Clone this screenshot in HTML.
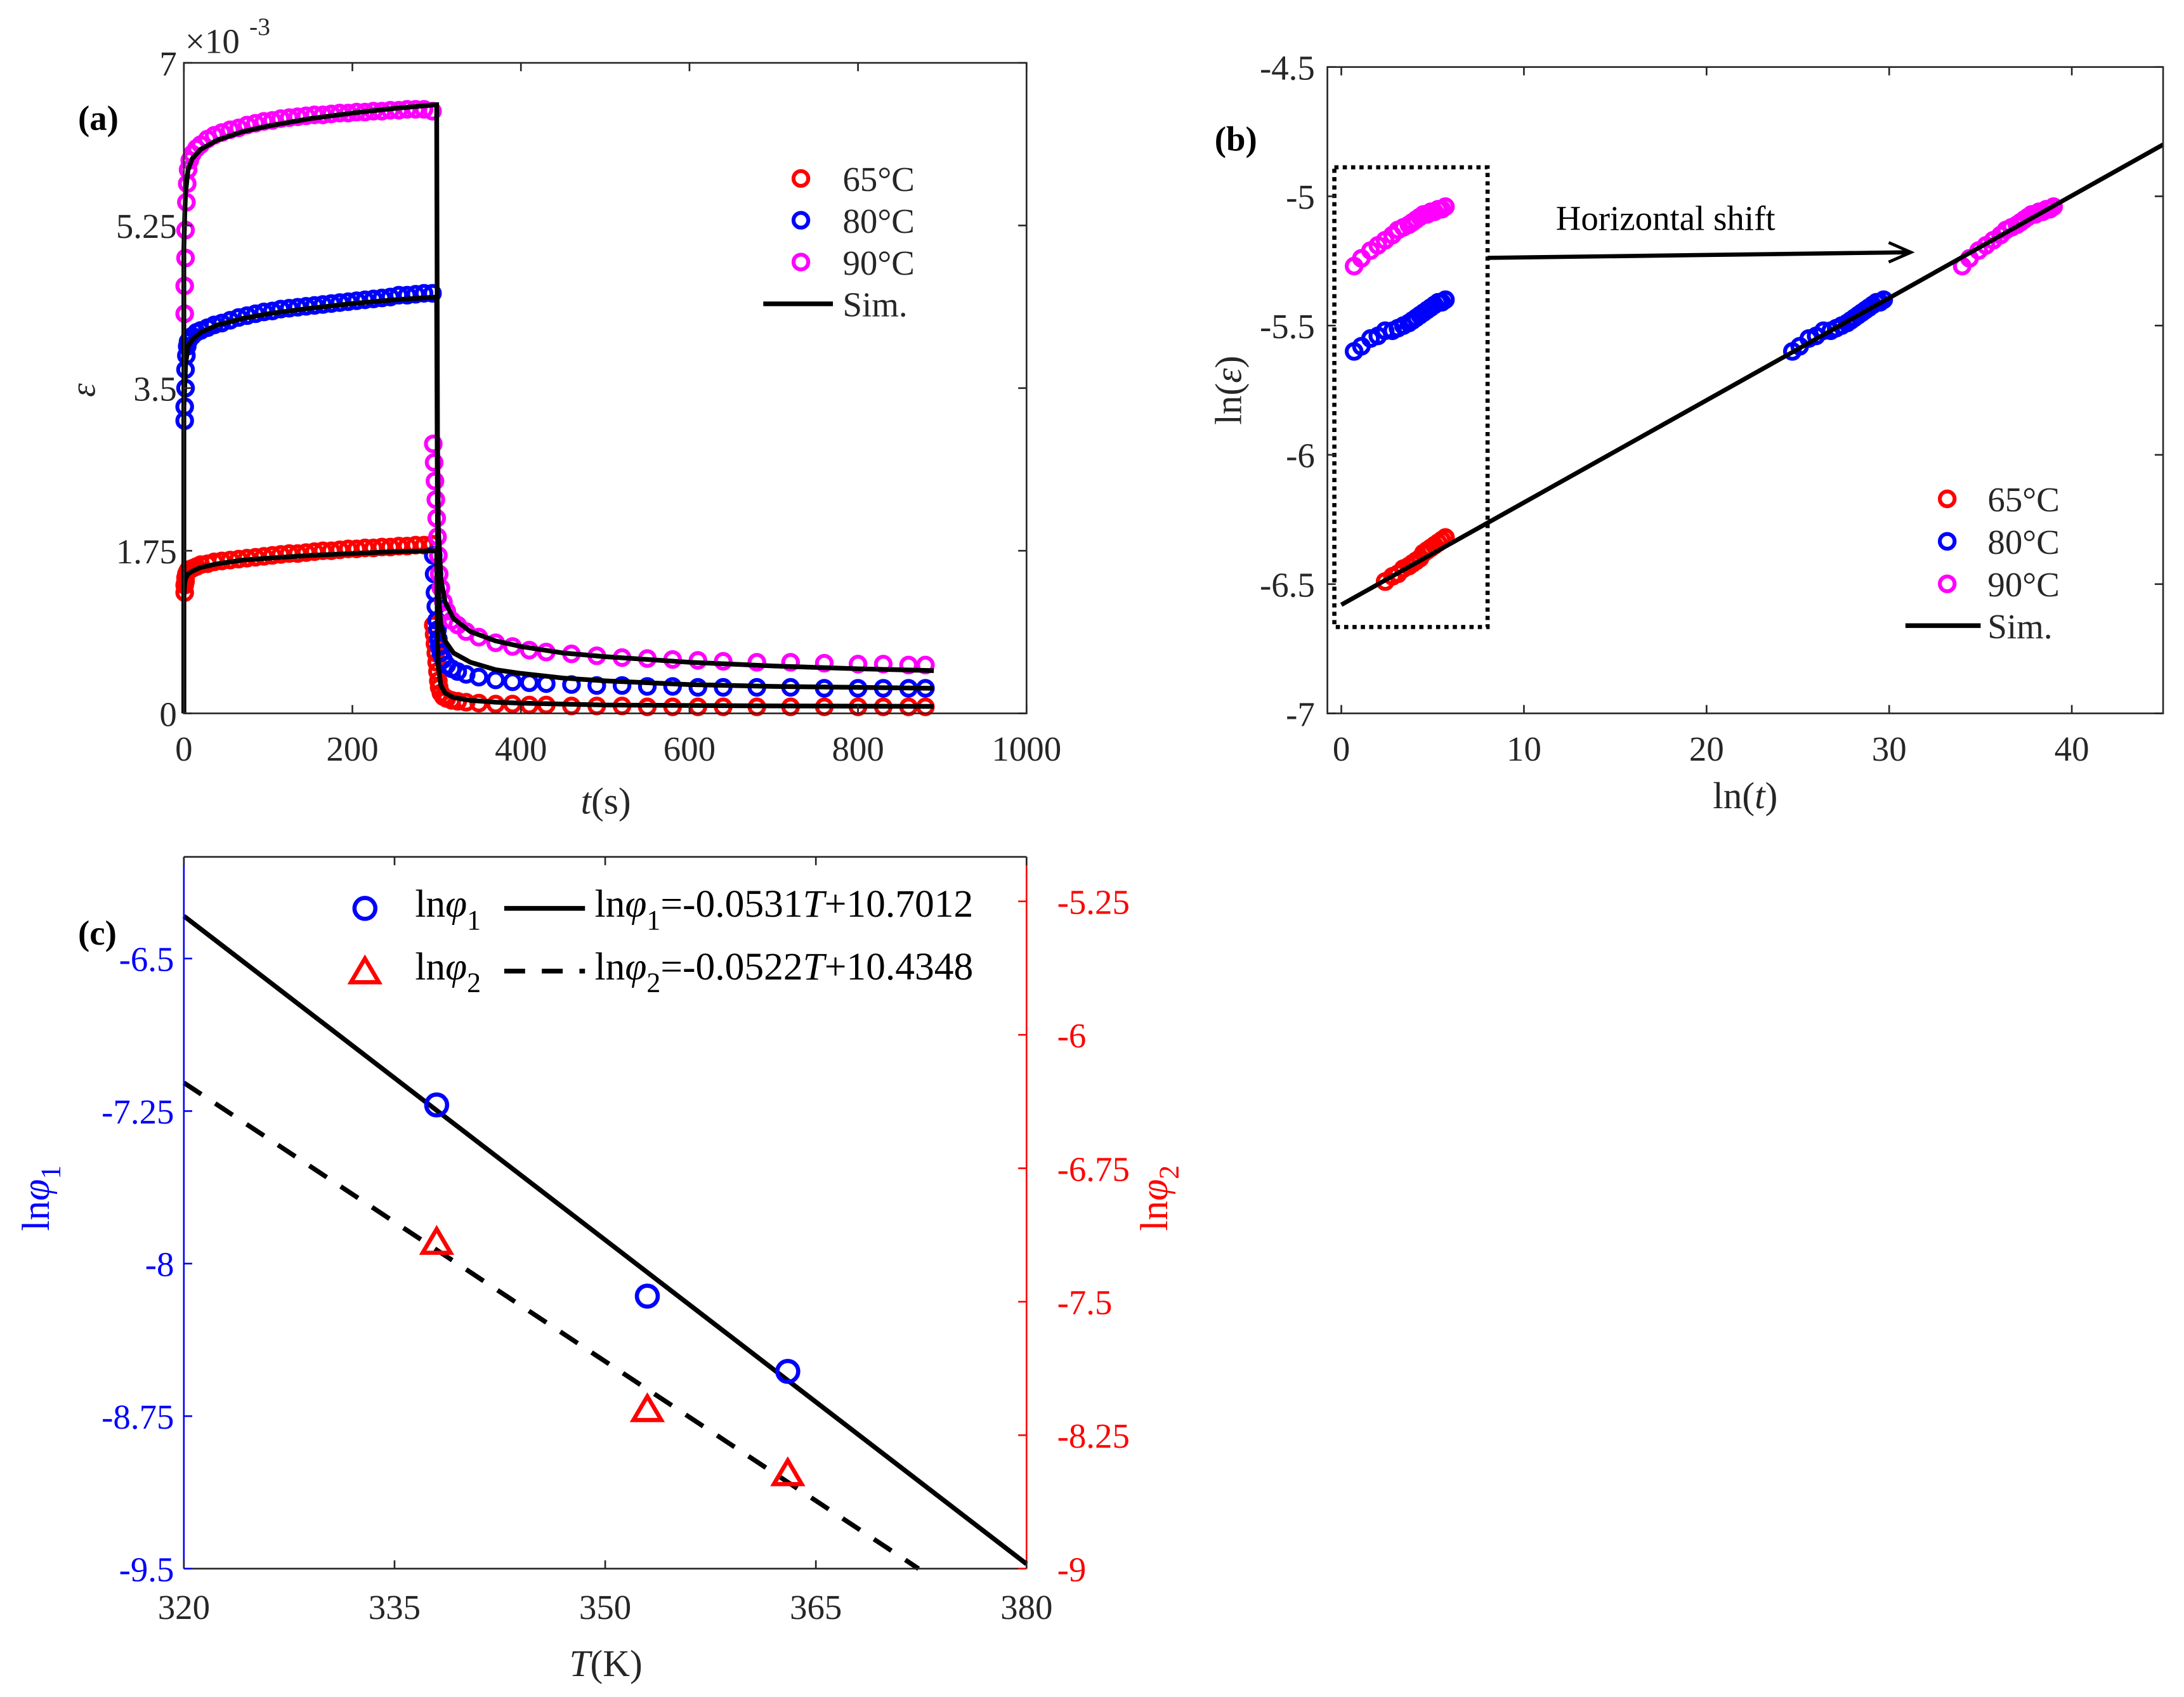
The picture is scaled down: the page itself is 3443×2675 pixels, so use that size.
<!DOCTYPE html>
<html><head><meta charset="utf-8"><style>
html,body{margin:0;padding:0;background:#fff}
svg{display:block;font-family:"Liberation Serif","DejaVu Serif",serif}
text{font-family:"Liberation Serif","DejaVu Serif",serif;fill:#262626}
</style></head><body>
<svg id="fig" width="3443" height="2675" viewBox="0 0 1568 1218" font-family="Liberation Serif, serif" xmlns="http://www.w3.org/2000/svg">
<g id="pa"></g>
<g id="pb"></g>
<g id="pc"></g>
</svg>
<script>
// ---------- Panel (a) data ----------
const aXTicks=[0,200,400,600,800,1000];
const aYTicks=[0,1.75,3.5,5.25,7];
const aYTickLabels=["0","1.75","3.5","5.25","7"];
const simT=[0,0.01,1,2,5,10,20,40,70,100,150,200,250,299.9,300,301,302,305,310,320,340,370,400,450,500,600,700,800,890];
const simMag=[0,5.0,5.35,5.6,5.85,5.97,6.07,6.17,6.26,6.32,6.4,6.46,6.51,6.55,6.55,3.0,2.0,1.45,1.2,1.02,0.88,0.78,0.72,0.65,0.61,0.55,0.51,0.48,0.46];
const simBlu=[0,3.3,3.5,3.75,3.95,4.02,4.1,4.18,4.25,4.3,4.36,4.41,4.45,4.48,4.48,2.0,1.3,0.95,0.78,0.65,0.55,0.47,0.43,0.38,0.35,0.31,0.29,0.28,0.27];
const simRed=[0,1.25,1.4,1.45,1.5,1.53,1.57,1.61,1.65,1.67,1.7,1.72,1.74,1.75,1.75,0.8,0.5,0.3,0.22,0.17,0.14,0.12,0.11,0.1,0.09,0.085,0.08,0.078,0.075];
const dT=[1,1,2,2,3,4,5,7,10,15,20,28,36,45,55,65,75,85,95,105,115,125,135,145,155,165,175,185,195,205,215,225,235,245,255,265,275,285,295,296,297,298,299,300,301,302,303,305,308,312,318,325,335,350,370,390,410,430,460,490,520,550,580,610,640,680,720,760,800,830,860,880];
const dMag=[4.3,4.6,4.9,5.2,5.5,5.7,5.85,5.95,6.02,6.08,6.12,6.18,6.22,6.25,6.28,6.3,6.33,6.35,6.37,6.38,6.4,6.41,6.42,6.43,6.44,6.44,6.45,6.46,6.46,6.47,6.47,6.48,6.48,6.49,6.49,6.5,6.5,6.5,6.48,2.9,2.7,2.5,2.3,2.1,1.9,1.7,1.5,1.35,1.2,1.1,1.0,0.95,0.88,0.82,0.76,0.72,0.68,0.66,0.64,0.62,0.6,0.59,0.58,0.57,0.56,0.55,0.55,0.54,0.53,0.53,0.52,0.52];
const dBlu=[3.15,3.3,3.5,3.7,3.85,3.95,4.0,4.03,4.06,4.1,4.12,4.15,4.18,4.2,4.23,4.26,4.28,4.3,4.32,4.33,4.35,4.36,4.37,4.38,4.39,4.4,4.41,4.42,4.43,4.44,4.45,4.46,4.47,4.48,4.5,4.5,4.51,4.52,4.52,1.7,1.5,1.3,1.15,1.0,0.9,0.8,0.72,0.65,0.58,0.52,0.48,0.45,0.42,0.39,0.36,0.34,0.33,0.32,0.31,0.3,0.3,0.29,0.29,0.28,0.28,0.28,0.28,0.27,0.27,0.27,0.27,0.27];
const dRed=[1.3,1.38,1.42,1.46,1.5,1.52,1.54,1.55,1.56,1.58,1.6,1.61,1.63,1.64,1.65,1.66,1.67,1.68,1.69,1.7,1.71,1.72,1.72,1.73,1.74,1.75,1.75,1.76,1.77,1.77,1.78,1.78,1.79,1.79,1.8,1.8,1.81,1.81,1.82,0.95,0.85,0.75,0.65,0.55,0.45,0.35,0.28,0.22,0.18,0.16,0.14,0.13,0.12,0.11,0.1,0.1,0.09,0.09,0.08,0.08,0.08,0.07,0.07,0.07,0.07,0.07,0.07,0.07,0.07,0.07,0.07,0.07];
// ---------- Panel (b) data ----------
const bXTicks=[0,10,20,30,40];
const bYTicks=[-4.5,-5,-5.5,-6,-6.5,-7];
const bSimX=[0,45];
const bSimY=[-6.58,-4.8];
const bLnT=[0.7,1.1,1.6,2.0,2.4,2.8,3.1,3.4,3.7,3.9,4.1,4.3,4.5,4.7,4.9,5.1,5.3,5.5,5.7];
const bRedY=[null,null,null,null,-6.49,-6.47,-6.46,-6.44,-6.43,-6.42,-6.41,-6.4,-6.38,-6.37,-6.36,-6.35,-6.34,-6.33,-6.32];
const bBluY=[-5.6,-5.58,-5.55,-5.54,-5.52,-5.52,-5.51,-5.5,-5.49,-5.48,-5.47,-5.46,-5.45,-5.44,-5.43,-5.42,-5.41,-5.41,-5.4];
const bMagY=[-5.27,-5.24,-5.21,-5.19,-5.17,-5.15,-5.13,-5.12,-5.11,-5.1,-5.09,-5.08,-5.07,-5.07,-5.06,-5.06,-5.05,-5.05,-5.04];
const bShift=[0,24,33.3];
// ---------- Panel (c) data ----------
const cXTicks=[320,335,350,365,380];
const cYLTicks=[-6.5,-7.25,-8,-8.75,-9.5];
const cYRTicks=[-5.25,-6,-6.75,-7.5,-8.25,-9];
const cT=[338,353,363];
const cPhi1=[-7.22,-8.16,-8.53];
const cPhi2=[-7.17,-8.11,-8.47];
const cFit1=[-0.0531,10.7012];
const cFit2=[-0.0522,10.4348];

const NS="http://www.w3.org/2000/svg";
function mk(p,tag,at,txt){const e=document.createElementNS(NS,tag);for(const k in at)e.setAttribute(k,at[k]);if(txt!==undefined)e.textContent=txt;p.appendChild(e);return e;}
function lin(d0,d1,r0,r1){return v=>r0+(v-d0)*(r1-r0)/(d1-d0);}
const FS=25;
const MR=5.3, MW=2.8;

// ===== Panel A =====
(function(){
const g=document.getElementById('pa');
const L=132,R=737,T=45,B=512;
const x=lin(0,1000,L,R), y=lin(0,7,B,T);
let e;
function series(vals,col,nm){vals.forEach((v,i)=>{if(v==null)return;e=mk(g,'circle',{cx:x(dT[i]),cy:y(v),r:MR,fill:'none',stroke:col,'stroke-width':MW});

});}
series(dRed,'#ff0000','red-65c');series(dBlu,'#0000ff','blue-80c');series(dMag,'#ff00ff','magenta-90c');
[simMag,simBlu,simRed].forEach((s,j)=>{e=mk(g,'polyline',{points:s.map((v,i)=>x(simT[i])+','+y(v)).join(' '),fill:'none',stroke:'#000','stroke-width':3.4});

});
e=mk(g,'rect',{x:L,y:T,width:R-L,height:B-T,fill:'none',stroke:'#262626','stroke-width':1.2});


aXTicks.forEach(v=>{mk(g,'line',{x1:x(v),x2:x(v),y1:B,y2:B-6,stroke:'#262626','stroke-width':1.2});mk(g,'line',{x1:x(v),x2:x(v),y1:T,y2:T+6,stroke:'#262626','stroke-width':1.2});
e=mk(g,'text',{x:x(v),y:B+34,'font-size':FS,'text-anchor':'middle'},String(v));

});
aYTicks.forEach((v,i)=>{mk(g,'line',{x1:L,x2:L+6,y1:y(v),y2:y(v),stroke:'#262626','stroke-width':1.2});mk(g,'line',{x1:R,x2:R-6,y1:y(v),y2:y(v),stroke:'#262626','stroke-width':1.2});
e=mk(g,'text',{x:L-5,y:y(v)+9,'font-size':FS,'text-anchor':'end'},aYTickLabels[i]);

});
e=mk(g,'text',{x:133,y:38,'font-size':FS},'×10');


mk(g,'text',{x:179,y:25,'font-size':18},'-3');
e=mk(g,'text',{x:56,y:93,'font-size':FS,'font-weight':'bold',style:'fill:#000'},'(a)');


e=mk(g,'text',{x:68,y:280,'font-size':FS,'font-style':'italic',transform:'rotate(-90 68 280)','text-anchor':'middle'},'ε');


e=mk(g,'text',{x:435,y:584,'font-size':FS+2,'text-anchor':'middle'});


e.innerHTML='<tspan font-style="italic">t</tspan>(s)';
const leg=[['#ff0000','65°C'],['#0000ff','80°C'],['#ff00ff','90°C']];
leg.forEach((l,i)=>{const yy=128+30*i;mk(g,'circle',{cx:575,cy:yy,r:MR,fill:'none',stroke:l[0],'stroke-width':MW});
e=mk(g,'text',{x:605,y:yy+9,'font-size':FS},l[1]);

});
mk(g,'line',{x1:548,x2:598,y1:218,y2:218,stroke:'#000','stroke-width':3.4});
e=mk(g,'text',{x:605,y:227,'font-size':FS},'Sim.');


})();

// ===== Panel B =====
(function(){
const g=document.getElementById('pb');
const L=953,R=1553,T=48,B=512;
const x=lin(0,45,963,1553), y=lin(-7,-4.5,B,T);
let e;
const cols=['#ff0000','#0000ff','#ff00ff'];
[bRedY,bBluY,bMagY].forEach((arr,j)=>{[0,bShift[j]].forEach(sh=>{arr.forEach((v,i)=>{if(v==null)return;e=mk(g,'circle',{cx:x(bLnT[i]+sh),cy:y(v),r:MR,fill:'none',stroke:cols[j],'stroke-width':MW});

});});});
e=mk(g,'line',{x1:x(bSimX[0]),y1:y(bSimY[0]),x2:x(bSimX[1]),y2:y(bSimY[1]),stroke:'#000','stroke-width':3.2});


e=mk(g,'rect',{x:958,y:120,width:110,height:330,fill:'none',stroke:'#000','stroke-width':3,'stroke-dasharray':'3 3'});


e=mk(g,'line',{x1:1068,y1:185,x2:1370,y2:181,stroke:'#000','stroke-width':3});


mk(g,'polyline',{points:'1356,174 1372,181 1356,188',fill:'none',stroke:'#000','stroke-width':2.2});
e=mk(g,'text',{x:1117,y:165,'font-size':FS,style:'fill:#000'},'Horizontal shift');


e=mk(g,'rect',{x:L,y:T,width:R-L,height:B-T,fill:'none',stroke:'#262626','stroke-width':1.2});


bXTicks.forEach(v=>{mk(g,'line',{x1:x(v),x2:x(v),y1:B,y2:B-6,stroke:'#262626','stroke-width':1.2});mk(g,'line',{x1:x(v),x2:x(v),y1:T,y2:T+6,stroke:'#262626','stroke-width':1.2});
e=mk(g,'text',{x:x(v),y:B+34,'font-size':FS,'text-anchor':'middle'},String(v));

});
bYTicks.forEach(v=>{mk(g,'line',{x1:L,x2:L+6,y1:y(v),y2:y(v),stroke:'#262626','stroke-width':1.2});mk(g,'line',{x1:R,x2:R-6,y1:y(v),y2:y(v),stroke:'#262626','stroke-width':1.2});
e=mk(g,'text',{x:L-9,y:y(v)+9,'font-size':FS,'text-anchor':'end'},String(v));

});
e=mk(g,'text',{x:872,y:108,'font-size':FS,'font-weight':'bold',style:'fill:#000'},'(b)');


e=mk(g,'text',{x:891,y:280,'font-size':FS+2,transform:'rotate(-90 891 280)','text-anchor':'middle'});


e.innerHTML='ln(<tspan font-style="italic">ε</tspan>)';
e=mk(g,'text',{x:1253,y:580,'font-size':FS+2,'text-anchor':'middle'});


e.innerHTML='ln(<tspan font-style="italic">t</tspan>)';
const leg=[['#ff0000','65°C'],['#0000ff','80°C'],['#ff00ff','90°C']];
leg.forEach((l,i)=>{const yy=358+30.5*i;mk(g,'circle',{cx:1398,cy:yy,r:MR,fill:'none',stroke:l[0],'stroke-width':MW});
e=mk(g,'text',{x:1427,y:yy+9,'font-size':FS},l[1]);

});
mk(g,'line',{x1:1368,x2:1422,y1:449,y2:449,stroke:'#000','stroke-width':3.4});
e=mk(g,'text',{x:1427,y:458,'font-size':FS},'Sim.');


})();

// ===== Panel C =====
(function(){
const g=document.getElementById('pc');
const L=132,R=737,T=615,B=1126;
const x=lin(320,380,L,R), yl=lin(-9.5,-6,B,T), yr=lin(-9,-5,B,T);
let e;
e=mk(g,'line',{x1:x(320),y1:yl(cFit1[0]*320+cFit1[1]),x2:x(380),y2:yl(cFit1[0]*380+cFit1[1]),stroke:'#000','stroke-width':3.4});


const tEnd=Math.min(380,(-9-cFit2[1])/cFit2[0]);
e=mk(g,'line',{x1:x(320),y1:yr(cFit2[0]*320+cFit2[1]),x2:x(tEnd),y2:yr(cFit2[0]*tEnd+cFit2[1]),stroke:'#000','stroke-width':3.4,'stroke-dasharray':'15 12'});


cT.forEach((t,i)=>{e=mk(g,'circle',{cx:x(t),cy:yl(cPhi1[i]),r:7.5,fill:'none',stroke:'#0000ff','stroke-width':3});


const cx=x(t),cy=yr(cPhi2[i]);
e=mk(g,'polygon',{points:`${cx},${cy-10} ${cx-10},${cy+7} ${cx+10},${cy+7}`,fill:'none',stroke:'#ff0000','stroke-width':3});

});
mk(g,'line',{x1:L,x2:R,y1:T,y2:T,stroke:'#262626','stroke-width':1.2});
mk(g,'line',{x1:L,x2:R,y1:B,y2:B,stroke:'#262626','stroke-width':1.2});
e=mk(g,'line',{x1:L,x2:L,y1:T,y2:B,stroke:'#0000ff','stroke-width':1.2});


e=mk(g,'line',{x1:R,x2:R,y1:T,y2:B,stroke:'#ff0000','stroke-width':1.2});


cXTicks.forEach(v=>{mk(g,'line',{x1:x(v),x2:x(v),y1:B,y2:B-6,stroke:'#262626','stroke-width':1.2});mk(g,'line',{x1:x(v),x2:x(v),y1:T,y2:T+6,stroke:'#262626','stroke-width':1.2});
e=mk(g,'text',{x:x(v),y:B+36,'font-size':FS,'text-anchor':'middle'},String(v));

});
cYLTicks.forEach(v=>{mk(g,'line',{x1:L,x2:L+6,y1:yl(v),y2:yl(v),stroke:'#0000ff','stroke-width':1.2});
e=mk(g,'text',{x:L-7,y:yl(v)+9,'font-size':FS,'text-anchor':'end',style:'fill:#0000ff'},String(v));

});
cYRTicks.forEach(v=>{mk(g,'line',{x1:R,x2:R-6,y1:yr(v),y2:yr(v),stroke:'#ff0000','stroke-width':1.2});
e=mk(g,'text',{x:R+22,y:yr(v)+9,'font-size':FS,style:'fill:#ff0000'},String(v));

});
e=mk(g,'text',{x:56,y:678,'font-size':FS,'font-weight':'bold',style:'fill:#000'},'(c)');


e=mk(g,'text',{x:35,y:860,'font-size':FS+3,transform:'rotate(-90 35 860)','text-anchor':'middle',style:'fill:#0000ff'});


e.innerHTML='ln<tspan font-style="italic" style="fill:#0000ff">φ</tspan><tspan dy="8" font-size="20" style="fill:#0000ff">1</tspan>';
e=mk(g,'text',{x:838,y:860,'font-size':FS+3,transform:'rotate(-90 838 860)','text-anchor':'middle',style:'fill:#ff0000'});


e.innerHTML='ln<tspan font-style="italic" style="fill:#ff0000">φ</tspan><tspan dy="8" font-size="20" style="fill:#ff0000">2</tspan>';
e=mk(g,'text',{x:435,y:1203,'font-size':FS+2,'text-anchor':'middle'});


e.innerHTML='<tspan font-style="italic">T</tspan>(K)';
// legend
const LFS=28;
mk(g,'circle',{cx:262,cy:652,r:7.5,fill:'none',stroke:'#0000ff','stroke-width':3});
mk(g,'polygon',{points:'262,688 252,705 272,705',fill:'none',stroke:'#ff0000','stroke-width':3});
e=mk(g,'text',{x:298,y:658,'font-size':LFS,style:'fill:#000'});


e.innerHTML='ln<tspan font-style="italic">φ</tspan><tspan dy="9" font-size="20">1</tspan>';
e=mk(g,'text',{x:298,y:703,'font-size':LFS,style:'fill:#000'});


e.innerHTML='ln<tspan font-style="italic">φ</tspan><tspan dy="9" font-size="20">2</tspan>';
mk(g,'line',{x1:362,x2:420,y1:652,y2:652,stroke:'#000','stroke-width':3.4});
mk(g,'line',{x1:362,x2:420,y1:697,y2:697,stroke:'#000','stroke-width':3.4,'stroke-dasharray':'15 12'});
e=mk(g,'text',{x:427,y:658,'font-size':LFS,style:'fill:#000'});


e.innerHTML='ln<tspan font-style="italic">φ</tspan><tspan dy="9" font-size="20">1</tspan><tspan dy="-9">=-0.0531</tspan><tspan font-style="italic">T</tspan>+10.7012';
e=mk(g,'text',{x:427,y:703,'font-size':LFS,style:'fill:#000'});


e.innerHTML='ln<tspan font-style="italic">φ</tspan><tspan dy="9" font-size="20">2</tspan><tspan dy="-9">=-0.0522</tspan><tspan font-style="italic">T</tspan>+10.4348';
})();
</script>
</body></html>
